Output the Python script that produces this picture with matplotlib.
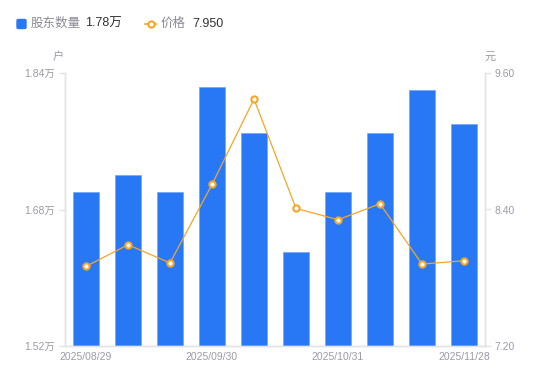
import matplotlib
matplotlib.use("Agg")
import matplotlib.pyplot as plt
from matplotlib.lines import Line2D
from matplotlib.patches import FancyBboxPatch

plt.rcParams['font.family'] = ['Liberation Sans', 'Noto Sans CJK SC', 'DejaVu Sans']

dates = ["2025/08/29", "2025/09/10", "2025/09/19", "2025/09/30", "2025/10/10",
         "2025/10/20", "2025/10/31", "2025/11/10", "2025/11/20", "2025/11/28"]
holders = [1.70, 1.72, 1.70, 1.824, 1.77, 1.63, 1.70, 1.77, 1.82, 1.78]  # 万户
price = [7.90, 8.09, 7.93, 8.62, 9.37, 8.41, 8.31, 8.45, 7.92, 7.95]
left_ticks = [1.52, 1.68, 1.84]
right_ticks = [7.20, 8.40, 9.60]
shown_idx = [0, 3, 6, 9]

BLUE = "#2878F5"
ORANGE = "#F5A623"
GRAY = "#9a9aa6"
AX = "#e3e3e8"

fig = plt.figure(figsize=(5.5, 3.81), dpi=100)
ax = fig.add_axes([65/550, 35/381, 420/550, 273/381])
x = list(range(len(dates)))
ax.bar(x, holders, width=0.6, color=BLUE, edgecolor="#6fa5f8", linewidth=0.5)
ax.set_ylim(left_ticks[0], left_ticks[-1])
ax.set_xlim(-0.5, len(dates) - 0.5)
ax.set_yticks(left_ticks)
ax.set_yticklabels([f"{v:.2f}万" for v in left_ticks])
ax.set_xticks([x[i] for i in shown_idx])
ax.set_xticklabels([dates[i] for i in shown_idx])

ax2 = ax.twinx()
ax2.plot(x, price, color=ORANGE, linewidth=0.9, marker='o', markersize=4.5,
         markerfacecolor='white', markeredgecolor=ORANGE, markeredgewidth=1.5, zorder=5)
ax2.set_ylim(right_ticks[0], right_ticks[-1])
ax2.set_yticks(right_ticks)
ax2.set_yticklabels([f"{v:.2f}" for v in right_ticks])

for a in (ax, ax2):
    for s in a.spines.values():
        s.set_color(AX)
        s.set_linewidth(1)
    a.spines['top'].set_visible(False)
    a.tick_params(colors=AX, labelcolor=GRAY, labelsize=7.5, length=4, width=1)
ax.tick_params(axis='x', length=0, pad=4)
ax2.tick_params(axis='y', pad=3)
ax.tick_params(axis='y', pad=3)

fig.text(58/550, 1 - 57/381, "户", color=GRAY, fontsize=8, ha='center', va='center')
fig.text(490/550, 1 - 57/381, "元", color=GRAY, fontsize=8, ha='center', va='center')

# legend
ly = 1 - 24/381
fig.patches.append(FancyBboxPatch((17/550, ly - 4.5/381), 9/550, 9/381,
                                  boxstyle="round,pad=0,rounding_size=0.003",
                                  transform=fig.transFigure, color=BLUE, figure=fig))
fig.text(31/550, ly, "股东数量", color="#8a8a96", fontsize=9, va='center')
fig.text(85/550, ly, "1.78万", color="#333333", fontsize=9, va='center')
fig.lines.append(Line2D([145/550, 156/550], [ly, ly], transform=fig.transFigure, color=ORANGE,
                        linewidth=1.2, figure=fig))
fig.lines.append(Line2D([150.5/550], [ly], transform=fig.transFigure, color=ORANGE, marker='o',
                        markersize=4.5, markerfacecolor='white', markeredgewidth=1.5, figure=fig))
fig.text(161/550, ly, "价格", color="#8a8a96", fontsize=9, va='center')
fig.text(192/550, ly, "7.950", color="#333333", fontsize=9, va='center')

fig.savefig("out.png", dpi=100)
